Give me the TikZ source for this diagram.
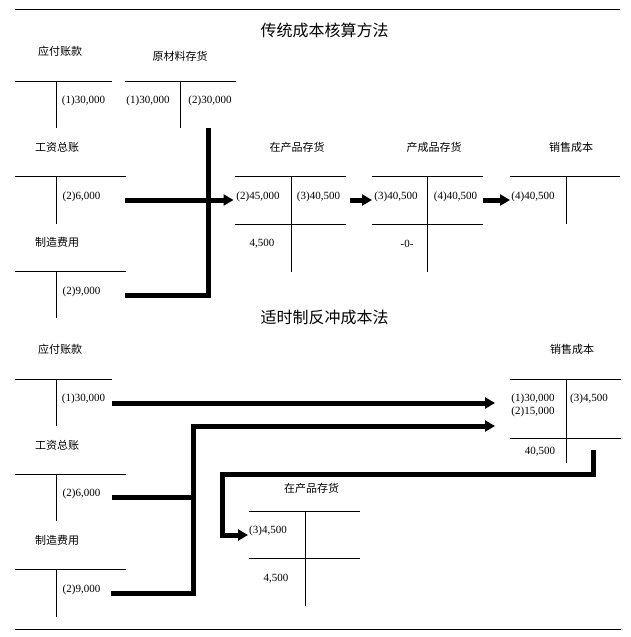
\documentclass[tikz,border=0pt]{standalone}
\usepackage{fontspec}
\setmainfont{Liberation Serif}
\newfontfamily\cjk{Noto Sans CJK SC}
\usetikzlibrary{arrows.meta}
\begin{document}
\begin{tikzpicture}[x=1pt,y=-1pt,
  amt/.style={font=\fontsize{11}{12}\selectfont, inner sep=0pt, yshift=-1.5pt},
  acct/.style={font=\cjk\fontsize{11}{12}\selectfont, inner sep=0pt},
  ttl/.style={font=\cjk\fontsize{16}{18}\selectfont, inner sep=0pt},
  tline/.style={line width=0.8pt},
  flow/.style={line width=5pt},
  flowarr/.style={line width=5pt, -{Triangle[length=10pt,width=11pt]}}]
\useasboundingbox (0,0) rectangle (630,637);
\draw[tline] (15,9) -- (620,9);
\draw[tline] (15,629) -- (621,629);

% traditional costing
\node[ttl] (t1) at (324.5,30) {传统成本核算方法};
\node[acct] (ap) at (60,51) {应付账款};
\draw[tline] (15,81) -- (112,81) (56,81) -- (56,128);
\node[amt] (ap1) at (83.5,99) {(1)30,000};
\node[acct] (rm) at (180,56) {原材料存货};
\draw[tline] (125,81) -- (236,81) (180,81) -- (180,128);
\node[amt] (rm1) at (148,99) {(1)30,000};
\node[amt] (rm2) at (210,99) {(2)30,000};
\node[acct] (wg) at (57,147) {工资总账};
\draw[tline] (15,176) -- (126,176) (56,176) -- (56,224);
\node[amt] (wg1) at (81.5,195) {(2)6,000};
\node[acct] (mo) at (57,242) {制造费用};
\draw[tline] (15,271) -- (126,271) (56,271) -- (56,318);
\node[amt] (mo1) at (81.5,290) {(2)9,000};
\node[acct] (wip) at (297,147) {在产品存货};
\draw[tline] (235,176) -- (346,176) (235,224) -- (346,224) (291,176) -- (291,272);
\node[amt] (wip1) at (258,195) {(2)45,000};
\node[amt] (wip2) at (318.5,195) {(3)40,500};
\node[amt] (wip3) at (262,242) {4,500};
\node[acct] (fg) at (434,147) {产成品存货};
\draw[tline] (372,176) -- (483,176) (372,224) -- (483,224) (427,176) -- (427,272);
\node[amt] (fg1) at (396,195) {(3)40,500};
\node[amt] (fg2) at (455.5,195) {(4)40,500};
\node[amt] (fg3) at (407,242) {-0-};
\node[acct] (cgs) at (571,147) {销售成本};
\draw[tline] (510,176) -- (620,176) (566,176) -- (566,224);
\node[amt] (cgs1) at (533,195) {(4)40,500};

\coordinate (rm-out) at (208,128);
\coordinate (wg-out) at (125,200);
\coordinate (mo-out) at (125,295);
\coordinate (wip-in) at (233.5,200);
\coordinate (wip-out) at (350,200);
\coordinate (fg-in) at (372,200);
\coordinate (fg-out) at (483,200);
\coordinate (cgs-in) at (510,200);
\draw[flow] (rm-out) |- (mo-out);
\draw[flowarr] (wg-out) -- (wip-in);
\draw[flowarr] (wip-out) -- (fg-in);
\draw[flowarr] (fg-out) -- (cgs-in);

% backflush costing
\node[ttl] (t2) at (324.5,317) {适时制反冲成本法};
\node[acct] (bap) at (60,349) {应付账款};
\draw[tline] (15,379) -- (112,379) (56,379) -- (56,426);
\node[amt] (bap1) at (83.5,397) {(1)30,000};
\node[acct] (bwg) at (57,445) {工资总账};
\draw[tline] (15,474) -- (126,474) (56,474) -- (56,521);
\node[amt] (bwg1) at (81.5,492) {(2)6,000};
\node[acct] (bmo) at (57,540) {制造费用};
\draw[tline] (15,569) -- (126,569) (56,569) -- (56,617);
\node[amt] (bmo1) at (81.5,588) {(2)9,000};
\node[acct] (bcgs) at (572,349) {销售成本};
\draw[tline] (510,379) -- (621,379) (510,438) -- (621,438) (566,379) -- (566,463);
\node[amt] (bcgs1) at (533,397) {(1)30,000};
\node[amt] (bcgs2) at (533,410) {(2)15,000};
\node[amt] (bcgs3) at (589,397) {(3)4,500};
\node[amt] (bcgs4) at (540,450) {40,500};
\node[acct] (bwip) at (311.5,488) {在产品存货};
\draw[tline] (249,511) -- (360,511) (249,558) -- (360,558) (305,511) -- (305,606);
\node[amt] (bwip1) at (268,529) {(3)4,500};
\node[amt] (bwip2) at (276,577) {4,500};

\coordinate (bap-out) at (112,403);
\coordinate (bwg-out) at (112,497);
\coordinate (bmo-out) at (111,593);
\coordinate (join) at (193,497);
\coordinate (bend) at (193,426);
\coordinate (bcgs-in1) at (495,403);
\coordinate (bcgs-in2) at (495,426);
\coordinate (bcgs-out) at (593,450);
\coordinate (turn) at (222,474);
\coordinate (bwip-in) at (248,535);
\draw[flowarr] (bap-out) -- (bcgs-in1);
\draw[flow] (bwg-out) -- (join);
\draw[flowarr] (bmo-out) -| (bend) -- (bcgs-in2);
\draw[flowarr] (bcgs-out) |- (turn) |- (bwip-in);
\end{tikzpicture}
\end{document}
